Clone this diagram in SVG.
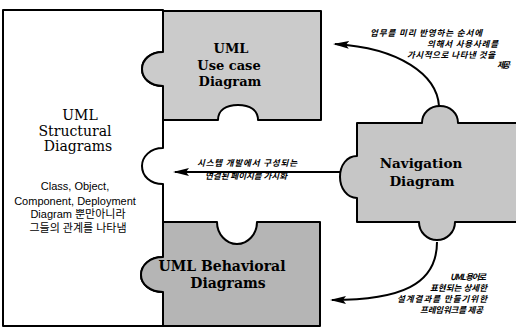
<svg xmlns="http://www.w3.org/2000/svg" width="516" height="332" viewBox="0 0 516 332">
<style>
.piece{stroke:#000;stroke-width:2;stroke-linejoin:round}
.title{font-family:"DejaVu Serif","Liberation Serif",serif;font-weight:bold;fill:#000;text-anchor:middle}
.light{font-family:"DejaVu Serif","Liberation Serif",serif;fill:#000;text-anchor:middle}
.small{font-family:"Liberation Sans","Noto Sans CJK KR",sans-serif;font-size:11px;fill:#000;text-anchor:middle}
.note{font-family:"Noto Sans CJK KR",sans-serif;font-size:8.5px;font-weight:bold;font-style:italic;fill:#000}
.conn{fill:none;stroke:#000;stroke-width:2}
</style>
<defs>
<marker id="ah" markerUnits="userSpaceOnUse" markerWidth="18" markerHeight="10" refX="14" refY="4" orient="auto">
<path d="M0,0 L16,4 L0,8 L3,4 Z" fill="#000"/>
</marker>
</defs>
<rect width="516" height="332" fill="#fff"/>
<g id="structural">
<path class="piece" stroke-width="1.6" fill="#fff" d="M3,10 H163 V52 C150,52 142,60 142,69 C142,78 150,86 163,86 V148 C150,148 142,157 142,166 C142,176 150,184 163,184 V257 C150,257 141,265 141,275 C141,284 150,292 163,292 V326 H3 Z"/>
<text class="light" font-size="14" x="80" y="120">UML</text>
<text class="light" font-size="14" x="75" y="136">Structural</text>
<text class="light" font-size="14" x="78" y="151">Diagrams</text>
<text class="small" x="75" y="190">Class, Object,</text>
<text class="small" x="75" y="205">Component, Deployment</text>
<text class="small" x="78" y="218">Diagram 뿐만아니라</text>
<text class="small" x="78" y="232">그들의 관계를 나타냄</text>
</g>
<g id="usecase">
<path class="piece" fill="#cbcbcb" d="M163,11 H321 V120 H258 C258,110 250,105 238,105 C226,105 218,110 218,120 H163 V86 C150,86 142,78 142,69 C142,60 150,52 163,52 Z"/>
<text class="title" font-size="13" x="231" y="53">UML</text>
<text class="title" font-size="13" x="229" y="70">Use case</text>
<text class="title" font-size="13" x="230" y="86">Diagram</text>
</g>
<g id="behavioral">
<path class="piece" fill="#b5b5b5" d="M163,222 H217 C217,234 226,244 237,244 C248,244 257,234 257,222 H320 V326 H163 V292 C150,292 141,284 141,275 C141,265 150,257 163,257 Z"/>
<text class="title" font-size="14" x="222" y="271">UML Behavioral</text>
<text class="title" font-size="14" x="228" y="288">Diagrams</text>
</g>
<g id="navigation">
<path class="piece" fill="#c6c6c6" d="M357,123 H422 C422,113 430,106 440,106 C450,106 458,113 458,123 H520 V222 H455 C455,232 447,240 437,240 C427,240 419,232 419,222 H357 V198 C347,198 340,188 340,177 C340,165 347,156 357,156 Z"/>
<text class="title" font-size="13.5" x="421" y="168">Navigation</text>
<text class="title" font-size="13.5" x="422" y="186">Diagram</text>
</g>
<g id="connectors">
<path class="conn" marker-end="url(#ah)" d="M439,106 C437,75 400,48 335,44"/>
<path class="conn" marker-end="url(#ah)" d="M340,172 H175"/>
<path class="conn" marker-end="url(#ah)" d="M437,242 C437,285 400,300 332,300"/>
</g>
<g id="notes">
<text class="note" x="370" y="36" textLength="112">업무를 미리 반영하는 순서에</text>
<text class="note" x="427" y="47" textLength="71">의해서 사용사례를</text>
<text class="note" x="407" y="58" textLength="88">가시적으로 나타낸 것을</text>
<text class="note" x="497" y="68" textLength="13">제공</text>
<text class="note" x="197" y="166" textLength="100">시스템 개발에서 구성되는</text>
<text class="note" x="205" y="179" textLength="82">연결된 페이지를 가시화</text>
<text class="note" x="450" y="280" textLength="36">UML 용어로</text>
<text class="note" x="430" y="291" textLength="57">표현되는 상세한</text>
<text class="note" x="397" y="302" textLength="90">설계결과를 만들기위한</text>
<text class="note" x="420" y="313" textLength="63">프레임워크를 제공</text>
</g>
</svg>
